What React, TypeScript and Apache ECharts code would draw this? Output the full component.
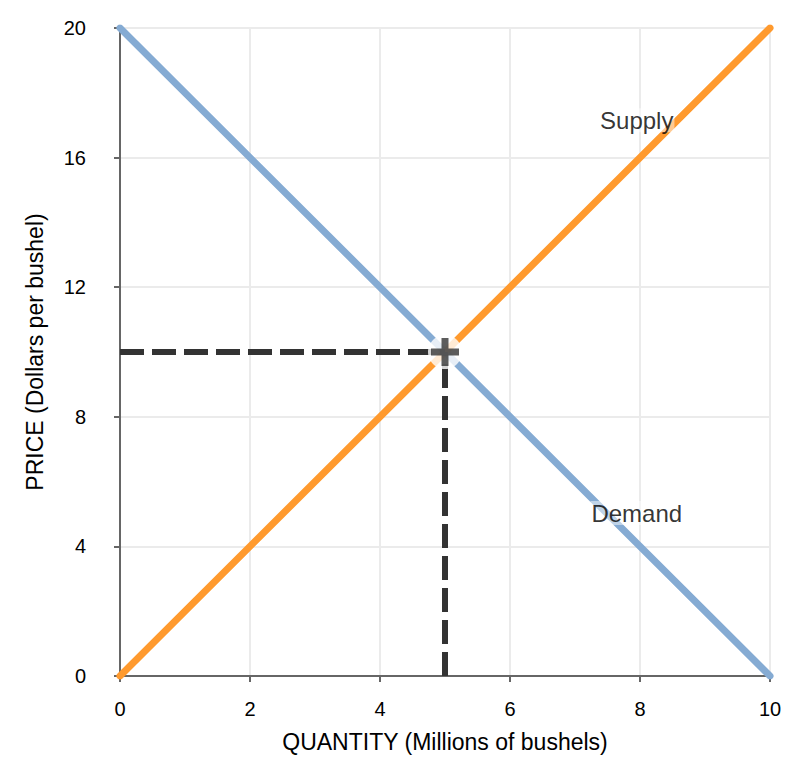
import React, { useEffect, useRef } from "react";
import * as echarts from "echarts";

const demandData: [number, number][] = [[0, 20], [10, 0]];
const supplyData: [number, number][] = [[0, 0], [10, 20]];
const priceGuide: [number, number][] = [[0, 10], [5, 10]];
const quantityGuide: [number, number][] = [[5, 0], [5, 10]];
const equilibrium: [number, number] = [5, 10];
const curveLabels = [
  { name: "Supply", value: [7.95, 17.15] },
  { name: "Demand", value: [7.95, 5.03] },
];
const xTitle = "QUANTITY (Millions of bushels)";
const yTitle = "PRICE (Dollars per bushel)";

const FONT = "'Liberation Sans', Arial, Helvetica, sans-serif";
const plusPath = "path://M10.5,0H17.5V10.5H28V17.5H17.5V28H10.5V17.5H0V10.5H10.5Z";

export default function App() {
  const ref = useRef<HTMLDivElement>(null);
  useEffect(() => {
    if (!ref.current) return;
    const chart = echarts.init(ref.current, undefined, { renderer: "svg" });
    chart.setOption({
      animation: false,
      backgroundColor: "#ffffff",
      textStyle: { fontFamily: FONT },
      grid: { left: 112, right: 28, top: 20, bottom: 96, containLabel: false },
      xAxis: {
        type: "value",
        min: 0,
        max: 10,
        interval: 2,
        name: xTitle,
        nameLocation: "middle",
        nameGap: 54,
        nameTextStyle: { fontSize: 23, color: "#000", fontFamily: FONT },
        axisLine: { onZero: false, lineStyle: { color: "#666", width: 2 } },
        axisTick: { show: true, length: 6, lineStyle: { color: "#666", width: 2 } },
        axisLabel: { fontSize: 20, color: "#000", margin: 23, fontFamily: FONT },
        splitLine: { show: true, lineStyle: { color: "#ebebeb", width: 2 } },
      },
      yAxis: {
        type: "value",
        min: 0,
        max: 20,
        interval: 4,
        name: yTitle,
        nameLocation: "middle",
        nameGap: 74,
        nameTextStyle: { fontSize: 23, color: "#000", fontFamily: FONT },
        axisLine: { onZero: false, lineStyle: { color: "#666", width: 2 } },
        axisTick: { show: true, length: 6, lineStyle: { color: "#666", width: 2 } },
        axisLabel: { fontSize: 20, color: "#000", margin: 34, fontFamily: FONT },
        splitLine: { show: true, lineStyle: { color: "#ebebeb", width: 2 } },
      },
      series: [
        {
          type: "line",
          data: demandData,
          symbol: "none",
          lineStyle: { color: "#85abd3", width: 7, cap: "round" },
          z: 3,
        },
        {
          type: "line",
          data: supplyData,
          symbol: "none",
          lineStyle: { color: "#ff9a2e", width: 7, cap: "round" },
          z: 3,
        },
        {
          type: "line",
          data: priceGuide,
          symbol: "none",
          lineStyle: { color: "#333333", width: 6, type: [24, 8] },
          z: 4,
        },
        {
          type: "line",
          data: quantityGuide,
          symbol: "none",
          lineStyle: { color: "#333333", width: 6, type: [24, 8] },
          z: 4,
        },
        {
          type: "scatter",
          data: [equilibrium],
          symbol: "circle",
          symbolSize: 34,
          itemStyle: { color: "#ffffff" },
          z: 5,
          silent: true,
        },
        {
          type: "scatter",
          data: [equilibrium],
          symbol: plusPath,
          symbolSize: 28,
          itemStyle: { color: "#333333" },
          z: 6,
          silent: true,
        },
        {
          type: "scatter",
          data: curveLabels,
          symbolSize: 0,
          z: 7,
          label: {
            show: true,
            position: "inside",
            formatter: "{b}",
            fontSize: 24,
            color: "#000",
            fontFamily: FONT,
            backgroundColor: "rgba(255,255,255,0.6)",
            padding: [0, 1],
          },
        },
      ],
    });
    return () => chart.dispose();
  }, []);
  return <div ref={ref} style={{ width: 790, height: 764 }} />;
}
